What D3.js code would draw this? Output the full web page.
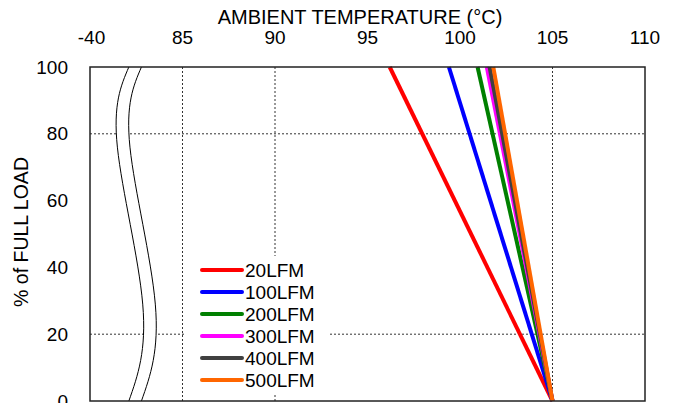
<!DOCTYPE html>
<html>
<head>
<meta charset="utf-8">
<script src="https://cdn.jsdelivr.net/npm/d3@7"></script>
<style>
  body { margin: 0; background: #fff; }
  text { font-family: "Liberation Sans", Arial, sans-serif; fill: #000; }
</style>
</head>
<body>
<svg id="chart" width="679" height="403"></svg>
<script>
// x ticks: axis value -> label (left end is broken, "-40" sits at 80)
const xTickVals = [80, 85, 90, 95, 100, 105, 110];
const xTickLabels = ["-40", "85", "90", "95", "100", "105", "110"];
const xGridVals = [85, 90, 105];
const yTickVals = [0, 20, 40, 60, 80, 100];
const yGridVals = [20, 80];

// derating lines: ambient temp at 100% load, all reach 0% at 105
const series = ["20LFM", "100LFM", "200LFM", "300LFM", "400LFM", "500LFM"];
const colors = ["#ff0000", "#0000ff", "#008000", "#ff00ff", "#404040", "#ff6600"];
const tempAt100 = [96.2, 99.4, 100.95, 101.45, 101.6, 101.8];
const tempAt0 = [105, 105, 105, 105, 105, 105];

// axis break curve (left edge), [load %, temp]
const breakPts = [[100, 82.1], [76, 81.48], [29, 82.85], [0, 82.1]];
const breakGap = 0.68;

const svg = d3.select("#chart");
const margin = {top: 67, left: 90, right: 34, bottom: 2};
const W = 679, H = 403;

x = d3.scaleLinear().domain([80, 110]).range([margin.left, W - margin.right]);
y = d3.scaleLinear().domain([0, 100]).range([H - margin.bottom, margin.top]);

g = svg.append("g");

// grid
g.selectAll(".xgrid")
    .data(xGridVals)
    .join("line")
    .attr("x1", d=>x(d)).attr("x2", d=>x(d))
    .attr("y1", y(0)).attr("y2", y(100))
    .attr("stroke", "#333").attr("stroke-width", 1)
    .attr("stroke-dasharray", "2,2");

g.selectAll(".ygrid")
    .data(yGridVals)
    .join("line")
    .attr("x1", x(80)).attr("x2", x(110))
    .attr("y1", d=>y(d)).attr("y2", d=>y(d))
    .attr("stroke", "#333").attr("stroke-width", 1)
    .attr("stroke-dasharray", "2,2");

// break
breakLine = d3.line().curve(d3.curveNatural)
    .x(d=>x(d[1])).y(d=>y(d[0]));
rightPts = breakPts.map(d=>[d[0], d[1] + breakGap]);
g.append("path")
    .attr("d", breakLine(breakPts) + "L" + breakLine(rightPts.slice().reverse()).slice(1) + "Z")
    .attr("fill", "#fff");
[breakPts, rightPts].forEach(pts=>{
    g.append("path")
        .attr("d", breakLine(pts))
        .attr("fill", "none")
        .attr("stroke", "#000")
        .attr("stroke-width", 1);
});

// legend background
g.append("rect")
    .attr("x", 186).attr("y", 256)
    .attr("width", 142).attr("height", 138)
    .attr("fill", "#fff");

// data lines
lineData = series.map((s, i)=>({name: s, color: colors[i], pts: [[100, tempAt100[i]], [0, tempAt0[i]]]}));
g.selectAll(".serie")
    .data(lineData)
    .join("line")
    .attr("x1", d=>x(d.pts[0][1])).attr("y1", d=>y(d.pts[0][0]))
    .attr("x2", d=>x(d.pts[1][1])).attr("y2", d=>y(d.pts[1][0]))
    .attr("stroke", d=>d.color)
    .attr("stroke-width", 4);

// frame
g.append("rect")
    .attr("x", x(80)).attr("y", y(100))
    .attr("width", x(110) - x(80)).attr("height", y(0) - y(100))
    .attr("fill", "none")
    .attr("stroke", "#222").attr("stroke-width", 1.5);

// x tick labels (top)
g.selectAll(".xlab")
    .data(xTickVals)
    .join("text")
    .attr("x", (d)=>x(d) + (d === 80 ? 1.5 : 0))
    .attr("y", 44)
    .attr("text-anchor", "middle")
    .style("font-size", "19px")
    .text((d, i)=>xTickLabels[i]);

// y tick labels
g.selectAll(".ylab")
    .data(yTickVals)
    .join("text")
    .attr("x", 68)
    .attr("y", d=>y(d))
    .attr("dy", "0.35em")
    .attr("text-anchor", "end")
    .style("font-size", "19px")
    .text(d=>d);

// titles
svg.append("text")
    .attr("x", 360).attr("y", 24)
    .attr("text-anchor", "middle")
    .style("font-size", "20px")
    .text("AMBIENT TEMPERATURE (°C)");

svg.append("text")
    .attr("transform", "translate(28,232) rotate(-90)")
    .attr("text-anchor", "middle")
    .style("font-size", "19.5px")
    .text("% of FULL LOAD");

// legend
leg = g.selectAll(".leg")
    .data(lineData)
    .join("g")
    .attr("transform", (d, i)=>`translate(202,${270 + i * 22})`);
leg.append("line")
    .attr("x1", 0).attr("x2", 40)
    .attr("stroke", d=>d.color)
    .attr("stroke-width", 4)
    .attr("stroke-linecap", "round");
leg.append("text")
    .attr("x", 43).attr("dy", "0.36em")
    .style("font-size", "19px")
    .text(d=>d.name);
</script>
</body>
</html>
